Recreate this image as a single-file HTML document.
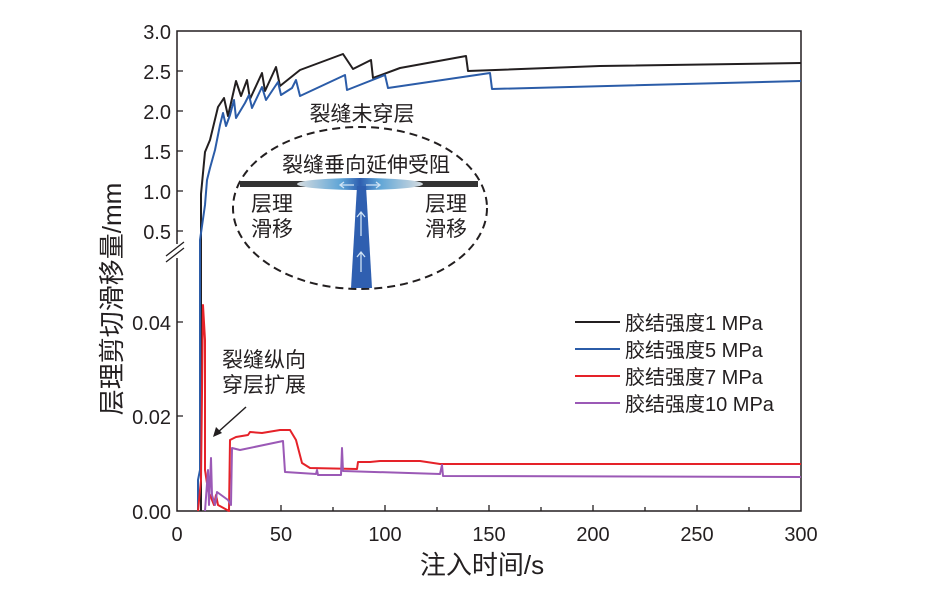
<!DOCTYPE html>
<html><head><meta charset="utf-8"><style>
body{margin:0;background:#fff}
svg text{font-family:"Liberation Sans","Noto Sans CJK SC",sans-serif;fill:#231f20}
</style></head><body>
<svg width="928" height="590" viewBox="0 0 928 590" xmlns="http://www.w3.org/2000/svg">
<defs>
<linearGradient id="g" x1="0" x2="1"><stop offset="0" stop-color="#d8dde0"/><stop offset="0.35" stop-color="#5da4d6"/><stop offset="0.5" stop-color="#2f5fb0"/><stop offset="0.65" stop-color="#5da4d6"/><stop offset="1" stop-color="#d8dde0"/></linearGradient>
</defs>
<path d="M177,31 H801 V511 H177 Z" fill="none" stroke="#231f20" stroke-width="1.5"/>
<rect x="165" y="244" width="20" height="14" fill="#fff"/>
<path d="M166,256 L184,242 M166,262 L184,248" stroke="#231f20" stroke-width="1.3"/>
<g stroke="#231f20" stroke-width="1.3">
<path d="M177,71h6M177,111h6M177,151h6M177,191h6M177,231h6M177,416h6M177,322h6"/>
<path d="M281,511v-6M385,511v-6M489,511v-6M593,511v-6M697,511v-6"/>
<path d="M229,511v-4M333,511v-4M437,511v-4M541,511v-4M645,511v-4M749,511v-4"/>
</g>
<g font-size="20" text-anchor="end">
<text x="171" y="39">3.0</text><text x="171" y="79">2.5</text><text x="171" y="119">2.0</text>
<text x="171" y="159">1.5</text><text x="171" y="199">1.0</text><text x="171" y="239">0.5</text>
<text x="171" y="330">0.04</text><text x="171" y="424">0.02</text><text x="171" y="519">0.00</text>
</g>
<g font-size="20" text-anchor="middle">
<text x="177" y="541">0</text><text x="281" y="541">50</text><text x="385" y="541">100</text>
<text x="489" y="541">150</text><text x="593" y="541">200</text><text x="697" y="541">250</text><text x="801" y="541">300</text>
</g>
<text x="482" y="574" font-size="26" text-anchor="middle">注入时间/s</text>
<text transform="translate(121,299) rotate(-90)" font-size="26" text-anchor="middle">层理剪切滑移量/mm</text>
<ellipse cx="360" cy="208" rx="127" ry="81" fill="none" stroke="#231f20" stroke-width="2" stroke-dasharray="8,5"/>
<rect x="240" y="181" width="238" height="6" fill="#333"/>
<ellipse cx="360" cy="184" rx="63" ry="6" fill="url(#g)"/>
<path d="M351,288 L372,288 L366,186 L357,186 Z" fill="#2f5fb0"/>
<g stroke="#cfe3f5" stroke-width="1.3" fill="none">
<path d="M361,272v-20M357,257l4,-5l4,5M361,236v-24M357,217l4,-5l4,5"/>
<path d="M354,185h-14M344,182l-4,3l4,3M366,185h14M376,182l4,3l-4,3"/>
</g>
<text x="366" y="172" font-size="21" text-anchor="middle">裂缝垂向延伸受阻</text>
<text x="272" y="211" font-size="21" text-anchor="middle">层理</text>
<text x="272" y="236" font-size="21" text-anchor="middle">滑移</text>
<text x="446" y="211" font-size="21" text-anchor="middle">层理</text>
<text x="446" y="236" font-size="21" text-anchor="middle">滑移</text>
<text x="362" y="121" font-size="21" text-anchor="middle">裂缝未穿层</text>
<text x="222" y="367" font-size="21">裂缝纵向</text>
<text x="222" y="392" font-size="21">穿层扩展</text>
<path d="M246,407 L217,433" stroke="#231f20" stroke-width="1.5"/>
<path d="M213,437 L216,427 L222,433 Z" fill="#231f20"/>
<g fill="none" stroke-width="2" stroke-linejoin="round">
<polyline stroke="#231f20" points="201,511 201,250 201,194 205,152 210,140 218,107 224,98 228,116 236,81 241,96 247,80 250,99 262,73 265,91 276,67 280,86 300,70 343,54 353,69 371,60 373,78 400,68 466,56 468,71 600,66 801,63"/>
<polyline stroke="#2b5ca8" points="198,511 198,480 200,470 200,300 200,240 205,205 207,180 210,168 215,150 220,125 223,113 226,126 230,115 234,100 236,118 245,103 249,95 252,108 262,87 266,100 278,82 281,95 292,88 296,80 300,96 345,75 347,90 385,75 388,88 490,73 492,89 801,81"/>
<polyline stroke="#e52229" points="198,511 201,480 203,305 205,340 205,470 208,490 212,500 214,505 216,495 218,505 229,511 230,440 236,437 248,435 250,432 262,433 280,430 290,430 296,440 302,463 310,468 357,469 358,462 370,462 380,461 420,461 440,464 500,464 801,464"/>
<polyline stroke="#9b59b6" points="205,511 208,470 209,505 211,458 212,495 215,505 217,492 228,500 231,505 232,448 240,450 283,441 285,472 316,474 317,470 318,475 341,475 342,448 343,471 440,474 442,465 443,476 801,477"/>
</g>
<g stroke-width="2">
<path d="M575,322h45" stroke="#231f20"/><path d="M575,349h45" stroke="#2b5ca8"/>
<path d="M575,376h45" stroke="#e52229"/><path d="M575,403h45" stroke="#9b59b6"/>
</g>
<g font-size="20">
<text x="625" y="330">胶结强度1 MPa</text><text x="625" y="357">胶结强度5 MPa</text>
<text x="625" y="384">胶结强度7 MPa</text><text x="625" y="411">胶结强度10 MPa</text>
</g>
</svg>
</body></html>
